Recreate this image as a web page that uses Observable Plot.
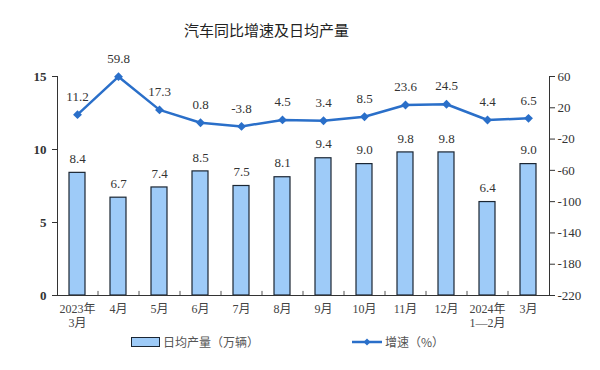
<!DOCTYPE html>
<html>
<head>
<meta charset="utf-8">
<script src="https://cdn.jsdelivr.net/npm/d3@7"></script>
<script src="https://cdn.jsdelivr.net/npm/@observablehq/plot@0.6"></script>
<style>
  body { margin: 0; background: #fff; width: 600px; height: 370px; overflow: hidden; font-family: "Liberation Serif", "Noto Sans CJK SC", serif; }
  #title { height: 50px; position: relative; }
  #title span { position: absolute; left: 0; width: 533px; text-align: center; top: 19px; font-family: "Noto Sans CJK SC", sans-serif; font-size: 15px; color: #222; }
  #legend { position: relative; height: 40px; font-family: "Noto Sans CJK SC", sans-serif; font-size: 12px; color: #555; }
  .item { position: absolute; top: 3px; display: flex; align-items: center; }
  .swatch { width: 27px; height: 8px; background: #9ecbf8; border: 1.2px solid #1b2633; margin-right: 3px; }
</style>
</head>
<body>
<div id="title"><span>汽车同比增速及日均产量</span></div>
<div id="chart"></div>
<div id="legend">
  <div class="item" style="left:131px"><div class="swatch"></div><span>日均产量（万辆）</span></div>
  <div class="item" style="left:352px"><svg width="30" height="10" style="margin-right:3px"><line x1="0" y1="5" x2="30" y2="5" stroke="#2a6fc9" stroke-width="2.5"/><path d="M15,1.5 L18.5,5 L15,8.5 L11.5,5Z" fill="#2a6fc9"/></svg><span>增速（%）</span></div>
</div>
<script>
const categories = ["2023年\n3月", "4月", "5月", "6月", "7月", "8月", "9月", "10月", "11月", "12月", "2024年\n1—2月", "3月"];
const output = [8.4, 6.7, 7.4, 8.5, 7.5, 8.1, 9.4, 9.0, 9.8, 9.8, 6.4, 9.0];
const growth = [11.2, 59.8, 17.3, 0.8, -3.8, 4.5, 3.4, 8.5, 23.6, 24.5, 4.4, 6.5];
const leftTicks = [0, 5, 10, 15];
const rightTicks = [60, 20, -20, -60, -100, -140, -180, -220];

const rMin = -220, rMax = 60, lMax = 15;
const toLeft = v => (v - rMin) / (rMax - rMin) * lMax;
const fromLeft = v => Math.round(v / lMax * (rMax - rMin) + rMin);

const data = categories.map((c, i) => ({cat: c, out: output[i], g: growth[i], gy: toLeft(growth[i])}));

const blue = "#2a6fc9";
const chart = Plot.plot({
  width: 600,
  height: 280,
  marginLeft: 57,
  marginRight: 51,
  marginTop: 26,
  marginBottom: 35,
  style: {fontFamily: "'Liberation Serif', 'Noto Sans CJK SC', serif", fontSize: "12px", color: "#333"},
  x: {domain: categories, paddingInner: 0.6, paddingOuter: 0.3, label: null},
  y: {domain: [0, lMax], label: null},
  marks: [
    Plot.barY(data, {x: "cat", y: "out", fill: "#9ecbf8", stroke: "#1b2633", strokeWidth: 1.2}),
    Plot.text(data, {x: "cat", y: "out", text: d => d.out.toFixed(1), dy: -14, fontSize: 13, fill: "#333"}),
    Plot.axisY(leftTicks, {anchor: "left", tickSize: 5, tickPadding: 6, fontSize: 13, fontWeight: "bold", fill: "#333", label: null}),
    Plot.frame({anchor: "left", stroke: "#333"}),
    Plot.axisY(rightTicks.map(toLeft), {anchor: "right", tickSize: 5, tickPadding: 3, tickFormat: fromLeft, fontSize: 13, fill: "#333", label: null}),
    Plot.frame({anchor: "right", stroke: "#333"}),
    Plot.ruleY([0], {stroke: "#333"}),
    Plot.ruleX(categories.slice(1), {x: d => d, y1: 0, y2: 0.28, dx: -20.5, stroke: "#555"}),
    Plot.axisX({tickSize: 0, tickPadding: 8, fontSize: 12, fill: "#444", label: null, lineHeight: 1.15}),
    Plot.line(data, {x: "cat", y: "gy", stroke: blue, strokeWidth: 2.5}),
    Plot.dot(data, {x: "cat", y: "gy", symbol: "diamond2", r: 4, fill: blue}),
    Plot.text(data, {x: "cat", y: "gy", text: d => d.g.toFixed(1), dy: -18, fontSize: 13, fill: "#333"})
  ]
});
document.getElementById("chart").appendChild(chart);
</script>
</body>
</html>
